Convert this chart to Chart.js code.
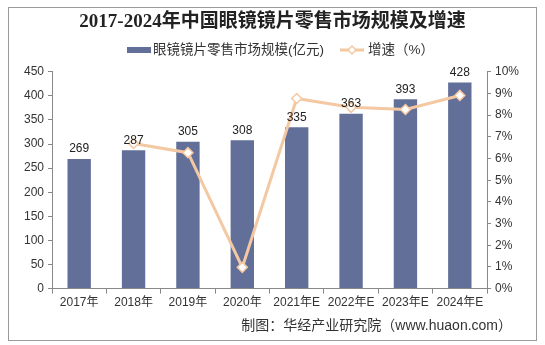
<!DOCTYPE html>
<html>
<head>
<meta charset="utf-8">
<script src="https://cdn.jsdelivr.net/npm/chart.js@4"></script>
<style>
  html, body { margin: 0; padding: 0; background: #fff; }
  #wrap { width: 545px; height: 345px; }
</style>
</head>
<body>
<div id="wrap"><canvas id="chart" width="545" height="345"></canvas></div>
<script>
const years = ["2017年", "2018年", "2019年", "2020年", "2021年E", "2022年E", "2023年E", "2024年E"];
const marketSize = [269, 287, 305, 308, 335, 363, 393, 428];
const growthRate = [null, 6.69, 6.27, 0.98, 8.77, 8.36, 8.26, 8.91];

const barColor = "#626f98";
const lineColor = "#f3c8a2";
const sansFont = "'Liberation Sans', 'Noto Sans CJK SC', sans-serif";

// frame, custom legend, bar value labels and source note
const extras = {
    id: "extras",
    afterDraw(chart) {
        const ctx = chart.ctx;
        const barIdx = chart.data.datasets.findIndex(d => d.type === "bar");
        const lineIdx = chart.data.datasets.findIndex(d => d.type === "line");
        ctx.save();
        ctx.strokeStyle = "#9a9a9a";
        ctx.lineWidth = 1;
        ctx.strokeRect(8.5, 7.5, 528, 333);

        // legend
        ctx.font = "13.5px " + sansFont;
        ctx.textBaseline = "middle";
        const ly = 50;
        ctx.fillStyle = barColor;
        ctx.fillRect(127, ly - 3, 24, 6);
        ctx.fillStyle = "#333";
        ctx.textAlign = "left";
        ctx.fillText(chart.data.datasets[barIdx].label, 153, ly);
        ctx.strokeStyle = lineColor;
        ctx.lineWidth = 3;
        ctx.beginPath();
        ctx.moveTo(340, ly);
        ctx.lineTo(364, ly);
        ctx.stroke();
        ctx.fillStyle = "#fff";
        ctx.lineWidth = 1.5;
        ctx.beginPath();
        ctx.moveTo(352, ly - 4);
        ctx.lineTo(356, ly);
        ctx.lineTo(352, ly + 4);
        ctx.lineTo(348, ly);
        ctx.closePath();
        ctx.fill();
        ctx.stroke();
        ctx.fillStyle = "#333";
        ctx.fillText(chart.data.datasets[lineIdx].label, 368, ly);

        // value labels
        ctx.font = "12px " + sansFont;
        ctx.textAlign = "center";
        ctx.textBaseline = "bottom";
        ctx.fillStyle = "#222";
        const meta = chart.getDatasetMeta(barIdx);
        meta.data.forEach((bar, i) => {
            ctx.fillText(String(marketSize[i]), bar.x, bar.y - 4);
        });

        // source
        ctx.font = "14px " + sansFont;
        ctx.textAlign = "right";
        ctx.textBaseline = "middle";
        ctx.fillStyle = "#333";
        ctx.fillText("制图：华经产业研究院（www.huaon.com）", 512, 326);
        ctx.restore();
    }
};

new Chart(document.getElementById("chart"), {
    data: {
        labels: years,
        datasets: [
            {
                type: "line",
                label: "增速（%）",
                data: growthRate,
                yAxisID: "y1",
                borderColor: lineColor,
                borderWidth: 3,
                tension: 0,
                pointStyle: "rectRot",
                pointRadius: 5,
                pointBackgroundColor: "#fff",
                pointBorderColor: lineColor,
                pointBorderWidth: 1.5,
                order: 0
            },
            {
                type: "bar",
                label: "眼镜镜片零售市场规模(亿元)",
                data: marketSize,
                yAxisID: "y",
                backgroundColor: barColor,
                barPercentage: 0.43,
                categoryPercentage: 1,
                order: 1
            }
        ]
    },
    options: {
        responsive: false,
        animation: false,
        layout: { padding: { left: 10, right: 10, top: 0, bottom: 33 } },
        plugins: {
            legend: { display: false },
            tooltip: { enabled: false },
            title: {
                display: true,
                text: "2017-2024年中国眼镜镜片零售市场规模及增速",
                font: { family: "'Liberation Serif', 'Noto Sans CJK SC', serif", size: 19, weight: "bold" },
                color: "#222",
                padding: { top: 11, bottom: 38 }
            }
        },
        scales: {
            x: {
                grid: { display: true, drawOnChartArea: false, offset: true, tickLength: 5, color: "#888" },
                border: { color: "#888" },
                ticks: { color: "#333", font: { family: sansFont, size: 12 }, maxRotation: 0, autoSkip: false, padding: 2 },
            },
            y: {
                position: "left",
                min: 0,
                max: 450,
                grid: { display: true, drawOnChartArea: false, tickLength: 4, color: "#888" },
                border: { color: "#888" },
                ticks: { stepSize: 50, color: "#333", font: { family: sansFont, size: 12 }, padding: 4 },
                afterFit(scale) { scale.width = 42; }
            },
            y1: {
                position: "right",
                min: 0,
                max: 10,
                grid: { display: true, drawOnChartArea: false, tickLength: 4, color: "#888" },
                border: { color: "#888" },
                ticks: { stepSize: 1, color: "#333", font: { family: sansFont, size: 12 }, padding: 4, callback: v => v + "%" },
                afterFit(scale) { scale.width = 48; }
            }
        }
    },
    plugins: [extras]
});
</script>
</body>
</html>
